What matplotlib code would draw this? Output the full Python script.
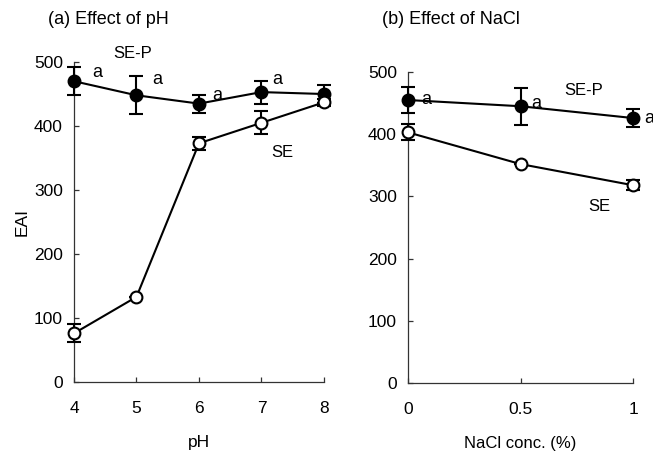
import matplotlib
matplotlib.use("Agg")
import matplotlib.pyplot as plt

plt.rcParams['font.family'] = ['Liberation Sans', 'DejaVu Sans']

# (a) efecto del pH
ph = [4, 5, 6, 7, 8]
sep_ph = [470, 448, 435, 453, 450]
sep_ph_err = [22, 30, 14, 18, 14]
se_ph = [76, 133, 373, 405, 437]
se_ph_err = [14, 0, 10, 18, 5]

# (b) efecto del NaCl
nacl = [0, 0.5, 1]
nacl_labels = ['0', '0.5', '1']
sep_nacl = [455, 445, 426]
sep_nacl_err = [21, 30, 14]
se_nacl = [403, 352, 318]
se_nacl_err = [13, 0, 8]

fig = plt.figure(figsize=(6.53, 4.53), dpi=100)
ax1 = fig.add_axes([0.1133, 0.1567, 0.3828, 0.7064])
ax2 = fig.add_axes([0.6248, 0.1545, 0.3446, 0.6865])

def serie(ax, x, y, err, relleno):
    ax.errorbar(x, y, yerr=err, color='black', lw=1.5, elinewidth=1.5,
                capsize=5, capthick=1.5, marker='o', ms=8.5,
                mfc='black' if relleno else 'white', mec='black', mew=1.5,
                clip_on=False, zorder=3)

serie(ax1, ph, sep_ph, sep_ph_err, True)
serie(ax1, ph, se_ph, se_ph_err, False)
serie(ax2, nacl, sep_nacl, sep_nacl_err, True)
serie(ax2, nacl, se_nacl, se_nacl_err, False)

for ax in (ax1, ax2):
    ax.set_ylim(0, 500)
    ax.set_yticks([0, 100, 200, 300, 400, 500])
    for s in ('top', 'right'):
        ax.spines[s].set_visible(False)
    for s in ('left', 'bottom'):
        ax.spines[s].set_linewidth(0.9)
        ax.spines[s].set_color('#333333')
    ax.tick_params(direction='in', length=3.5, width=0.9, color='#333333',
                   labelsize=12.5)
    ax.tick_params(axis='x', pad=14)
    ax.tick_params(axis='y', pad=8)

ax1.set_xlim(4, 8)
ax1.set_xticks(ph)
ax1.set_ylabel('EAI', fontsize=12.5, labelpad=3)
ax1.set_xlabel('pH', fontsize=12.5, labelpad=13)

ax2.set_xlim(0, 1)
ax2.set_xticks(nacl)
ax2.set_xticklabels(nacl_labels)
ax2.set_xlabel('NaCl conc. (%)', fontsize=12, labelpad=13)

fig.text(48 / 653, 1 - 20 / 453, '(a) Effect of pH', fontsize=13, va='center')
fig.text(382 / 653, 1 - 20 / 453, '(b) Effect of NaCl', fontsize=13, va='center')

kw = dict(fontsize=12, ha='center', va='center', clip_on=False)
ax1.text(4.94, 514, 'SE-P', **kw)
ax1.text(7.33, 358, 'SE', **kw)
for x, y in [(4.37, 483), (5.33, 472), (6.29, 448), (7.26, 472)]:
    ax1.text(x, y, 'a', fontsize=13, ha='center', va='center', clip_on=False)

ax2.text(0.78, 471, 'SE-P', **kw)
ax2.text(0.85, 283, 'SE', **kw)
for x, y in [(0.08, 456), (0.57, 450), (1.07, 426)]:
    ax2.text(x, y, 'a', fontsize=13, ha='center', va='center', clip_on=False)

plt.savefig('out.png', dpi=100)
